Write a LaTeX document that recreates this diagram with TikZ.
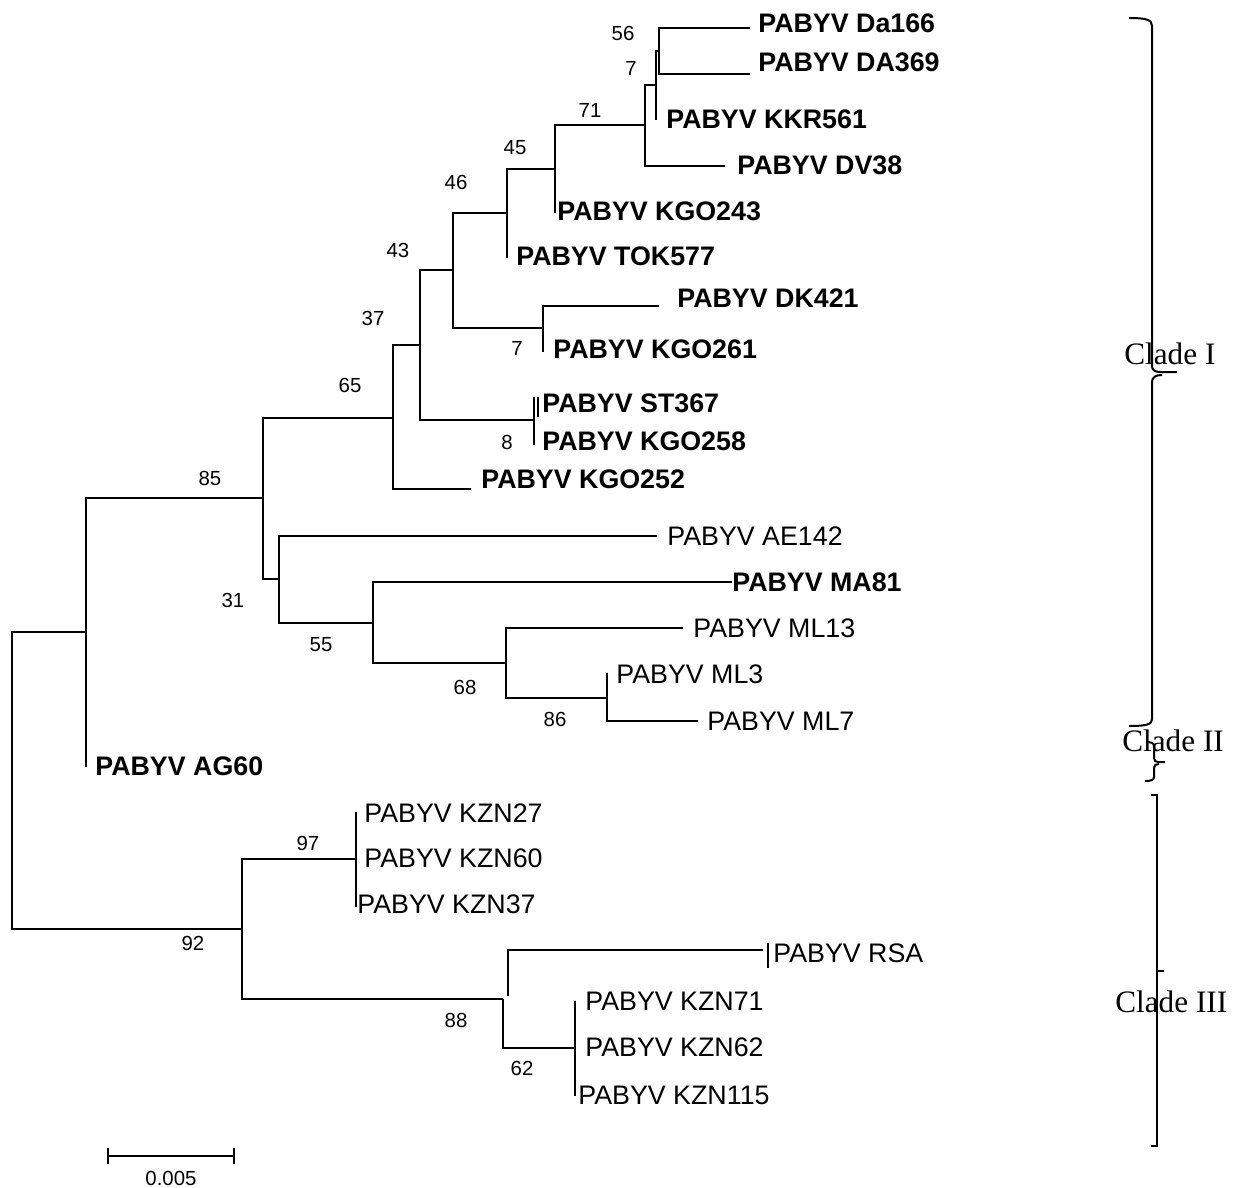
\documentclass[tikz,border=0pt]{standalone}
\usepackage{fontspec}
\setmainfont{Liberation Sans}
\newfontfamily\cladefont{Liberation Serif}
\usepackage{tikz}

\tikzset{
  branch/.style={line width=0.8pt},
  taxon/.style={anchor=west, inner sep=0pt, font=\fontsize{13.4}{13.4}\selectfont, text height=9.6pt, text depth=0pt},
  btaxon/.style={taxon, font=\fontsize{13.4}{13.4}\selectfont\bfseries},
  boot/.style={inner sep=0pt, font=\fontsize{10.2}{10.2}\selectfont, text height=7.3pt, text depth=0pt},
  clade/.style={anchor=west, inner sep=0pt, font=\cladefont\fontsize{15.6}{15.6}\selectfont, text height=10.3pt, text depth=0pt},
  cladebrace/.style={line width=1pt}
}

\begin{document}
\begin{tikzpicture}[x=0.5pt,y=-0.5pt]
                \useasboundingbox (0,0) rectangle (1243,1188);
                % inner nodes
                \coordinate (root) at (12,780);
                \coordinate (nA) at (86,632);
                \coordinate (b85) at (263,498);
                \coordinate (b65) at (393,418);
                \coordinate (b37) at (420,345);
                \coordinate (b43) at (453,270);
                \coordinate (b46) at (507,213);
                \coordinate (b45) at (555,169);
                \coordinate (b71) at (645,125);
                \coordinate (b7a) at (656,85);
                \coordinate (b56) at (659,51);
                \coordinate (b7b) at (543,328);
                \coordinate (b8) at (534,420);
                \coordinate (b31) at (279,579);
                \coordinate (b55) at (373,623);
                \coordinate (b68) at (506,663);
                \coordinate (b86) at (607,698);
                \coordinate (b92) at (242,929);
                \coordinate (b97) at (356,859);
                \coordinate (b88) at (503,999);
                \coordinate (b88u) at (508,996);
                \coordinate (b62) at (575,1048);
                % tips
                \coordinate (tDa166) at (750,28);
                \coordinate (tDA369) at (750,74);
                \coordinate (tKKR561) at (656,120);
                \coordinate (tDV38) at (725,166);
                \coordinate (tKGO243) at (555,213);
                \coordinate (tTOK577) at (507,258);
                \coordinate (tDK421) at (659,306);
                \coordinate (tKGO261) at (543,352);
                \coordinate (tST367) at (534,397);
                \coordinate (tKGO258) at (534,445);
                \coordinate (tKGO252) at (471,489);
                \coordinate (tAE142) at (657,536);
                \coordinate (tMA81) at (732,582);
                \coordinate (tML13) at (683,628);
                \coordinate (tML3) at (607,673);
                \coordinate (tML7) at (698,721);
                \coordinate (tAG60) at (86,767);
                \coordinate (tKZN27) at (356,812);
                \coordinate (tKZN60) at (356,859);
                \coordinate (tKZN37) at (356,907);
                \coordinate (tRSA) at (763,950);
                \coordinate (tKZN71) at (575,1001);
                \coordinate (tKZN62) at (575,1048);
                \coordinate (tKZN115) at (575,1096);
                % branches
                \foreach \p/\c in {root/nA, root/b92, nA/b85, nA/tAG60, b85/b65, b85/b31,
                    b65/b37, b65/tKGO252, b37/b43, b37/b8, b43/b46, b43/b7b,
                    b46/b45, b46/tTOK577, b45/b71, b45/tKGO243, b71/b7a, b71/tDV38,
                    b7a/b56, b7a/tKKR561, b56/tDa166, b56/tDA369, b7b/tDK421, b7b/tKGO261,
                    b8/tST367, b8/tKGO258, b31/tAE142, b31/b55, b55/tMA81, b55/b68,
                    b68/tML13, b68/b86, b86/tML3, b86/tML7, b92/b97, b92/b88,
                    b97/tKZN27, b97/tKZN60, b97/tKZN37, b88u/tRSA, b88/b62,
                    b62/tKZN71, b62/tKZN62, b62/tKZN115}
                    \draw[branch] (\p) |- (\c);
                \draw[branch] (538,397) -- (538,417);
                \draw[branch] (768,943) -- (768,968);
                % taxa
                \node[btaxon] (lDa166) at (758,23) {PABYV Da166};
                \node[btaxon] (lDA369) at (758,62) {PABYV DA369};
                \node[btaxon] (lKKR561) at (666,119) {PABYV KKR561};
                \node[btaxon] (lDV38) at (737,165) {PABYV DV38};
                \node[btaxon] (lKGO243) at (557,211) {PABYV KGO243};
                \node[btaxon] (lTOK577) at (516,256) {PABYV TOK577};
                \node[btaxon] (lDK421) at (677,298) {PABYV DK421};
                \node[btaxon] (lKGO261) at (553,349) {PABYV KGO261};
                \node[btaxon] (lST367) at (542,403) {PABYV ST367};
                \node[btaxon] (lKGO258) at (542,441) {PABYV KGO258};
                \node[btaxon] (lKGO252) at (481,479) {PABYV KGO252};
                \node[taxon] (lAE142) at (667,536) {PABYV AE142};
                \node[btaxon] (lMA81) at (732,582) {PABYV MA81};
                \node[taxon] (lML13) at (693,628) {PABYV ML13};
                \node[taxon] (lML3) at (616,674) {PABYV ML3};
                \node[taxon] (lML7) at (707,721) {PABYV ML7};
                \node[btaxon] (lAG60) at (95,766) {PABYV AG60};
                \node[taxon] (lKZN27) at (364,813) {PABYV KZN27};
                \node[taxon] (lKZN60) at (364,858) {PABYV KZN60};
                \node[taxon] (lKZN37) at (357,904) {PABYV KZN37};
                \node[taxon] (lRSA) at (773,953) {PABYV RSA};
                \node[taxon] (lKZN71) at (585,1001) {PABYV KZN71};
                \node[taxon] (lKZN62) at (585,1047) {PABYV KZN62};
                \node[taxon] (lKZN115) at (578,1095) {PABYV KZN115};
                % bootstrap values
                \node[boot] (v56) at (623,33) {56};
                \node[boot] (v7a) at (631,68) {7};
                \node[boot] (v71) at (590,110) {71};
                \node[boot] (v45) at (515,147) {45};
                \node[boot] (v46) at (456,182) {46};
                \node[boot] (v43) at (398,250) {43};
                \node[boot] (v37) at (373,318) {37};
                \node[boot] (v7b) at (517,348) {7};
                \node[boot] (v65) at (350,385) {65};
                \node[boot] (v8) at (507,442) {8};
                \node[boot] (v85) at (210,478) {85};
                \node[boot] (v31) at (233,600) {31};
                \node[boot] (v55) at (321,644) {55};
                \node[boot] (v68) at (465,687) {68};
                \node[boot] (v86) at (555,719) {86};
                \node[boot] (v97) at (308,843) {97};
                \node[boot] (v92) at (193,943) {92};
                \node[boot] (v88) at (456,1020) {88};
                \node[boot] (v62) at (522,1068) {62};
                % scale bar
                \draw[branch] (108,1148) -- (108,1164) (108,1156) -- (234,1156) (234,1148) -- (234,1164);
                \node[boot] (scale) at (171,1178) {0.005};
                % clades
                \draw[cladebrace] (1129,18) .. controls (1147,18) and (1152,20) .. (1152,26) -- (1152,366)
                    .. controls (1152,370) and (1155,372) .. (1160,372) -- (1177,372);
                \draw[cladebrace] (1162,375) .. controls (1156,375) and (1152,377) .. (1152,382) -- (1152,719)
                    .. controls (1152,724) and (1148,726) .. (1129,726);
                \draw[cladebrace] (1146,742) .. controls (1151,742) and (1154,743) .. (1154,746) -- (1154,758)
                    .. controls (1154,761) and (1156,762) .. (1158,762) -- (1165,762);
                \draw[cladebrace] (1159,764) .. controls (1156,764) and (1154,765) .. (1154,768) -- (1154,777)
                    .. controls (1154,780) and (1151,781) .. (1145,781);
                \draw[cladebrace] (1151,795) -- (1157,795) -- (1157,971) -- (1164,971) (1157,971) -- (1157,1146) -- (1151,1146);
                \node[clade] (c1) at (1124,354) {Clade I};
                \node[clade] (c2) at (1122,741) {Clade II};
                \node[clade] (c3) at (1115,1002) {Clade III};
            \end{tikzpicture}
\end{document}
